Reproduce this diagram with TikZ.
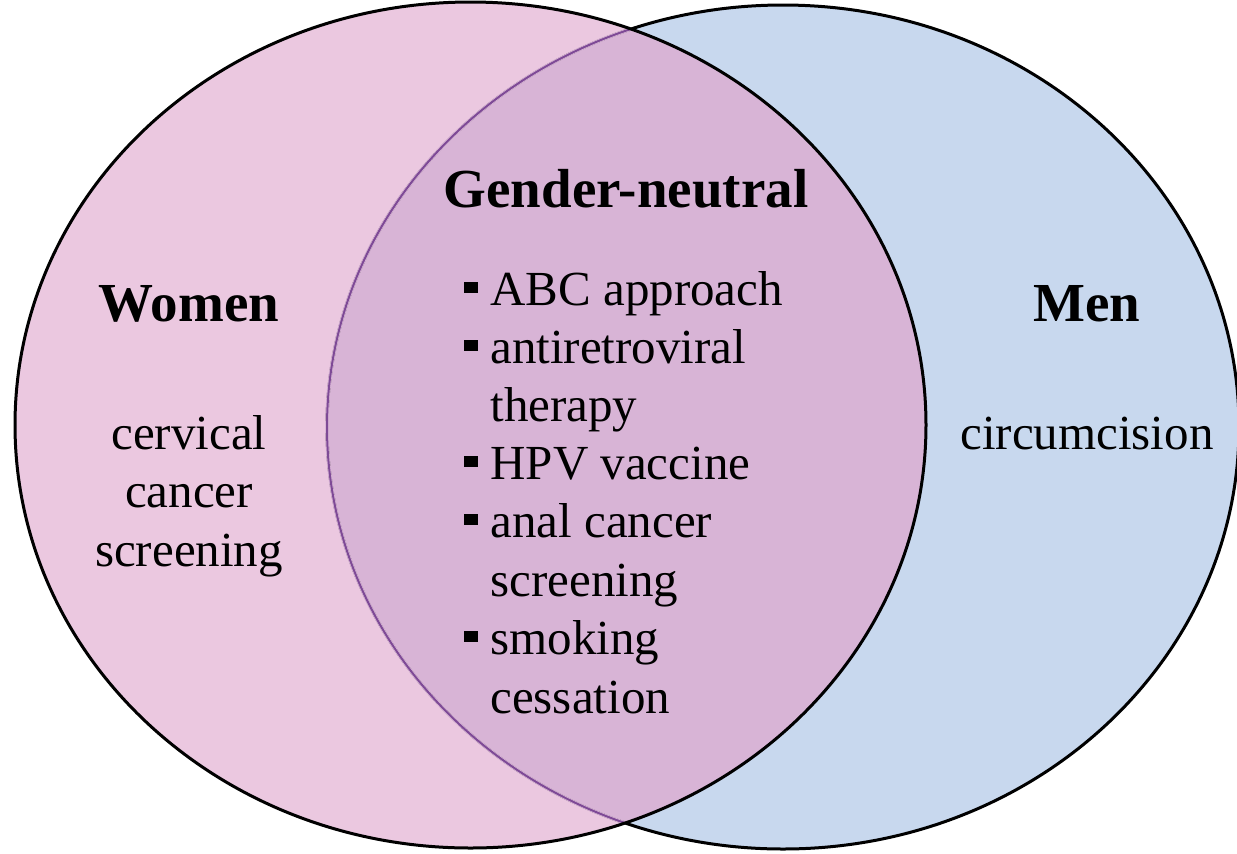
\documentclass[tikz,border=0pt]{standalone}
\usepackage{fontspec}
\setmainfont{Liberation Serif}
\newfontfamily\timesfont{Liberation Serif}
\definecolor{womenpink}{HTML}{EBC8E0}
\definecolor{menblue}{HTML}{C8D8EE}
\definecolor{lensmauve}{HTML}{D8B4D6}
\definecolor{lensline}{HTML}{7E4A96}
\newcommand{\sqbullet}{\makebox[13pt][l]{\rule[6pt]{7pt}{5.5pt}}}
\begin{document}
\begin{tikzpicture}[x=0.5pt,y=-0.5pt,
  regtext/.style={inner sep=0pt,anchor=base,font=\timesfont\fontsize{24.5}{29.3}\selectfont},
  itemtext/.style={inner sep=0pt,anchor=base west,font=\timesfont\fontsize{24.5}{29.3}\selectfont},
  headtext/.style={inner sep=0pt,anchor=base,font=\timesfont\fontsize{27.5}{32}\selectfont\bfseries},
  outline/.style={line width=1.5pt,draw=black}]
\useasboundingbox (0,0) rectangle (1237,853);
% fills
\fill[womenpink] (470.5,425) ellipse [x radius=455.5, y radius=423];
\fill[menblue] (783,427) ellipse [x radius=456, y radius=422];
\begin{scope}
  \clip (470.5,425) ellipse [x radius=455.5, y radius=423];
  \fill[lensmauve] (783,427) ellipse [x radius=456, y radius=422];
\end{scope}
% outlines
\draw[outline] (783,427) ellipse [x radius=456, y radius=422];
\begin{scope}
  \clip (470.5,425) ellipse [x radius=455.5, y radius=423];
  \draw[line width=1.8pt,draw=lensmauve] (783,427) ellipse [x radius=456, y radius=422];
  \draw[line width=1pt,draw=lensline] (783,427) ellipse [x radius=456, y radius=422];
\end{scope}
\draw[outline] (470.5,425) ellipse [x radius=455.5, y radius=423];
% texts
\node[headtext] (women) at (189,321) {Women};
\node[regtext] (w1) at (189,449) {cervical};
\node[regtext] (w2) at (189,507) {cancer};
\node[regtext] (w3) at (189,566) {screening};
\node[headtext] (men) at (1087,321) {Men};
\node[regtext] (m1) at (1087,449) {circumcision};
\node[headtext] (gn) at (626,207) {Gender-neutral};
\node[itemtext] (g1) at (464,305) {\sqbullet ABC approach};
\node[itemtext] (g2) at (464,363) {\sqbullet antiretroviral};
\node[itemtext] (g2b) at (490,421) {therapy};
\node[itemtext] (g3) at (464,479) {\sqbullet HPV vaccine};
\node[itemtext] (g4) at (464,537) {\sqbullet anal cancer};
\node[itemtext] (g4b) at (490,596) {screening};
\node[itemtext] (g5) at (464,654) {\sqbullet smoking};
\node[itemtext] (g5b) at (490,713) {cessation};
\end{tikzpicture}
\end{document}
